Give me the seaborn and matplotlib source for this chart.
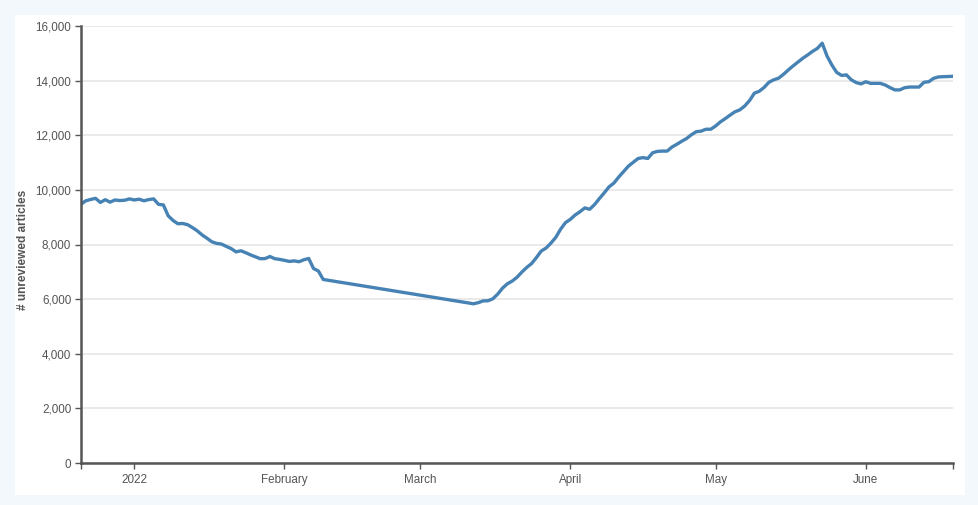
import matplotlib
matplotlib.use("Agg")
import matplotlib.pyplot as plt
import matplotlib.dates as mdates
from matplotlib.patches import Rectangle
from matplotlib.ticker import FuncFormatter
import numpy as np
import pandas as pd
import seaborn as sns

# ---- data ----
seg1_start, seg1_end = "2021-12-21", "2022-02-09"
seg1_values = [9480, 9600, 9650, 9690, 9540, 9640, 9550, 9630, 9610, 9620,
               9670, 9630, 9660, 9600, 9645, 9670, 9470, 9450, 9050, 8880,
               8760, 8770, 8725, 8620, 8500, 8350, 8230, 8100, 8040, 8015,
               7930, 7850, 7730, 7770, 7700, 7620, 7550, 7480, 7485, 7560,
               7480, 7455, 7420, 7380, 7400, 7370, 7440, 7490, 7120, 7030,
               6720]
seg2_start, seg2_end = "2022-03-12", "2022-06-19"
seg2_values = [5830, 5870, 5935, 5940, 6010, 6180, 6400, 6560, 6660, 6800,
               6990, 7160, 7300, 7520, 7760, 7870, 8050, 8260, 8560, 8800,
               8920, 9080, 9200, 9340, 9290, 9460, 9680, 9890, 10110, 10250,
               10470, 10670, 10870, 11010, 11150, 11180, 11150, 11360, 11410, 11420,
               11420, 11570, 11670, 11780, 11880, 12020, 12130, 12150, 12220, 12220,
               12340, 12490, 12610, 12740, 12860, 12930, 13070, 13270, 13540, 13610,
               13750, 13940, 14030, 14090, 14230, 14390, 14540, 14680, 14820, 14940,
               15070, 15180, 15370, 14900, 14570, 14300, 14190, 14210, 14030, 13930,
               13880, 13960, 13900, 13900, 13900, 13840, 13745, 13660, 13660, 13740,
               13765, 13765, 13765, 13940, 13960, 14085, 14135, 14145, 14150, 14160]
x_tick_dates = ["2022-01-01", "2022-02-01", "2022-03-01", "2022-04-01", "2022-05-01", "2022-06-01"]
x_tick_labels = ["2022", "February", "March", "April", "May", "June"]
y_ticks = [0, 2000, 4000, 6000, 8000, 10000, 12000, 14000, 16000]
y_label = "# unreviewed articles"

dates = list(pd.date_range(seg1_start, seg1_end)) + list(pd.date_range(seg2_start, seg2_end))
values = seg1_values + seg2_values
df = pd.DataFrame({"date": dates, "articles": values})

# ---- style ----
sns.set_style("white")
plt.rcParams["font.family"] = ["Liberation Sans", "DejaVu Sans"]
TXT = "#555555"

W, H = 979, 505
fig = plt.figure(figsize=(W / 100, H / 100), dpi=100)
fig.patch.set_facecolor("#f3f8fc")
fig.add_artist(Rectangle((15 / W, 1 - 495 / H), 950 / W, 480 / H,
                         transform=fig.transFigure, facecolor="white",
                         edgecolor="none", zorder=0))

ax = fig.add_axes([81 / W, 1 - 463 / H, (953 - 81) / W, (463 - 26) / H])
ax.set_facecolor("none")

sns.lineplot(data=df, x="date", y="articles", ax=ax, color="#4682b4",
             linewidth=2.4, zorder=3)

xmin, xmax = df["date"].min(), df["date"].max()
ax.set_xlim(xmin, xmax)
ax.set_ylim(y_ticks[0], y_ticks[-1])

ax.set_xticks(pd.to_datetime(x_tick_dates))
ax.set_xticklabels(x_tick_labels)
ax.set_xticks([mdates.date2num(xmin), mdates.date2num(xmax)], minor=True)
ax.set_yticks(y_ticks)
ax.yaxis.set_major_formatter(FuncFormatter(lambda v, p: f"{int(v):,}"))

ax.grid(axis="y", color="#e4e4e4", linewidth=1.1, zorder=0)
ax.grid(axis="x", visible=False)

for s in ["top", "right"]:
    ax.spines[s].set_visible(False)
for s in ["left", "bottom"]:
    ax.spines[s].set_color(TXT)
    ax.spines[s].set_linewidth(1.8)
    ax.spines[s].set_zorder(4)

ax.tick_params(axis="both", which="both", direction="out", length=4.3,
               width=1.0, color=TXT, labelcolor=TXT, labelsize=8.4)
ax.tick_params(axis="x", which="both", pad=3.5, bottom=True)
ax.tick_params(axis="y", which="both", pad=2.8, left=True)

ax.set_xlabel("")
ax.set_ylabel(y_label, color=TXT, fontsize=8.6, fontweight="bold")
ax.yaxis.set_label_coords((29 - 81) / (953 - 81), (463 - 250) / (463 - 26))

fig.savefig("out.png", dpi=100, facecolor=fig.get_facecolor())
